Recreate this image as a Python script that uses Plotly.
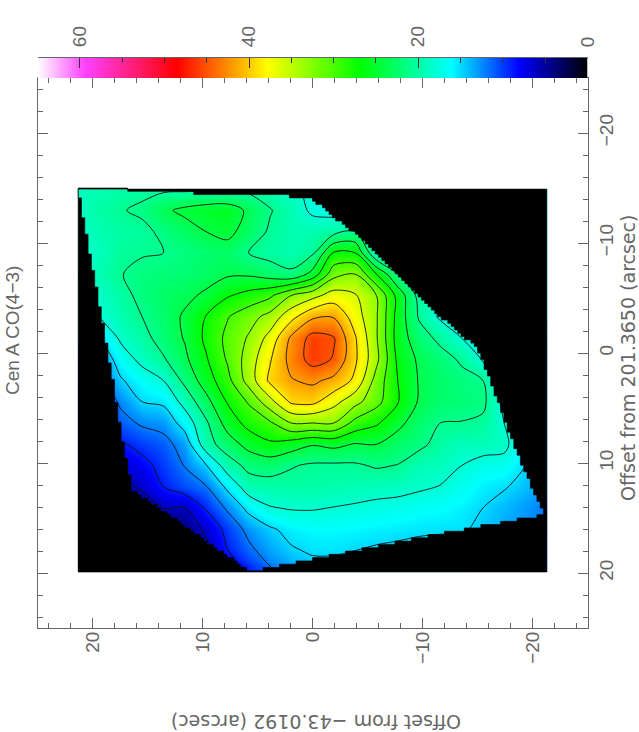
#!/usr/bin/env python3
"""Cen A CO(4-3) integrated intensity map, rotated PGPLOT style layout."""

import numpy as np
import plotly.graph_objects as go

# map values, rows run from -14.9 to 19.9 arcsec, columns from 21.3 to -21.3
z_grid = [
    [19, 19.5, 20, 20.3, 20.5, 20.5, 20.5, 20.5, 20.3, 19.5, 18.5, 17.5, 17, 16, 16, 16, 16, 16, 16, 16, 16, 16, 16],
    [19, 20, 20.8, 21.5, 23.5, 24.6, 25.3, 25.5, 23.5, 21.2, 19.5, 17.5, 17, 16, 16, 16, 16, 16, 16, 16, 16, 16, 16],
    [18.5, 19.5, 20, 20.3, 21.6, 22.8, 24, 24.8, 22.8, 20.6, 19.5, 19.5, 20, 21, 20, 18, 16, 16, 16, 16, 16, 16, 16],
    [18, 19, 20.5, 20.8, 21, 21.7, 22.3, 22.7, 21, 20, 19.5, 20.5, 27.3, 27, 18, 17, 16, 16, 16, 16, 16, 16, 16],
    [18, 19.5, 20.9, 21.7, 22, 22.2, 22.8, 23.6, 23.6, 22.6, 21.5, 25, 32, 33, 27, 21, 18, 16, 16, 16, 16, 16, 16],
    [17.5, 18.5, 20, 21.8, 22.8, 23.3, 24.5, 26.7, 28, 29.4, 33, 35, 37.3, 36.3, 33, 26, 20, 18, 17, 16, 16, 16, 16],
    [15, 18, 19.5, 21, 22.5, 24.4, 27.1, 29.8, 31.8, 34, 38, 41.5, 41.8, 37.5, 33.3, 25.9, 20.7, 17.5, 16.5, 16, 16, 16, 16],
    [13, 15, 18.5, 20, 22.2, 24.2, 27.6, 30.7, 33.3, 37, 42.5, 46, 45.2, 39.3, 33.3, 25.7, 22.3, 20.3, 18, 16, 15.5, 15, 14],
    [11, 12.5, 16.5, 18.8, 20.7, 23.4, 26.7, 30.3, 34.3, 38.7, 43, 46.2, 44.8, 39.5, 33.8, 26.4, 23.5, 22.1, 20.6, 17.7, 15, 14, 13],
    [9.5, 11, 14.7, 16.5, 18, 21.7, 25.5, 29, 34.2, 39.6, 41.8, 42.6, 41.2, 38.4, 31.8, 27, 23.8, 22.5, 21.8, 21, 15.5, 14, 13],
    [8, 9.5, 12.5, 15, 15.5, 19, 23, 27.2, 30.3, 35, 39.5, 39.8, 37, 34, 31, 27.2, 23.7, 22.5, 22, 21.7, 17, 14, 13],
    [7, 8, 11, 12.4, 13, 16.2, 20.5, 25.2, 28, 29.5, 33, 33, 33, 29, 27.4, 24.8, 22.5, 21, 20.9, 20.4, 18, 15, 13],
    [6, 7, 8.6, 10, 11, 13.2, 19.7, 22.5, 25, 26.5, 25.5, 24.2, 24.8, 23.8, 24, 22.6, 21.7, 20, 19, 19.2, 18.7, 15.5, 14],
    [5, 5.5, 6.5, 8, 10, 12.1, 14.8, 19.5, 21.8, 22.3, 21.2, 20.6, 20.5, 20.6, 21.3, 20.9, 19.3, 19, 18, 17, 17, 15, 13],
    [4, 4.5, 5, 6.5, 9, 10.6, 11.8, 15.6, 19.5, 19.8, 20, 19.9, 19.6, 19.4, 19, 18.9, 18.4, 17.9, 16.9, 15.8, 15.2, 14.2, 13],
    [3, 3.5, 3.8, 4, 6, 6, 9.3, 12.4, 15.8, 17.8, 18.2, 18.2, 17.9, 17.6, 17.3, 17, 16.6, 16.3, 15.8, 15, 14, 13, 12],
    [3, 3, 3, 3, 3.5, 4, 6.5, 9.9, 12.8, 14.6, 15.8, 16.2, 16.2, 16, 15.8, 15.6, 15.4, 15.3, 15.3, 14.4, 13.5, 12.7, 12],
    [3, 3, 3, 3, 3, 3.5, 5, 8.9, 11.3, 13.3, 14.7, 15.3, 15.3, 15, 14.7, 14.5, 14.2, 14, 13.7, 13.4, 13, 12.5, 12],
    [3, 3, 3, 3, 3, 3, 3, 6, 9.2, 11.5, 13, 14, 14, 14, 14, 14, 14, 14, 14, 13, 13, 12, 12],
]

# outline of the observed area, arcsec
area_x = [21.3, 17.95, 10.86, 3.59, 0.23, -3.68, -10.05, -14.95, -16.3, -19.14, -21.2,
          -12.5, -0.95, 5.68, 14.59, 16.32, 17.23, 18.14, 19.14]
area_y = [-14.9, -14.9, -14.55, -14.36, -14.09, -11.0, -4.64, -0.45, 2.9, 10.64, 14.73,
          16.27, 18.55, 19.9, 13.55, 12.45, 8.18, 2.45, -3.18]

map_x_limits = [21.3, -21.3]
map_y_limits = [-14.9, 19.9]

contour_levels = dict(start=6, end=45, size=3)

# colour table
table_values = [0, 8.1, 16.2, 27, 37.8, 48.6, 59.4, 65]
table_colors = ['#000000', '#0000ff', '#00ffff', '#00ff00', '#ffff00', '#ff0000', '#ff40ff', '#ffffff']
bar_values = list(range(0, 66))
bar_ticks = [0, 20, 40, 60]

INK = '#666666'
TICK_FONT = dict(family='Liberation Sans', size=19, color=INK)
TITLE_FONT = dict(family='DejaVu Sans', size=19, color=INK)
W, H = 639, 732


def stairs(xs, ys, pitch=0.3):
    """Walk a closed outline on a pixel grid so it gets the blocky edge of the map"""
    out_x, out_y = [], []
    for i in range(len(xs)):
        x0, y0 = xs[i], ys[i]
        x1, y1 = xs[(i + 1) % len(xs)], ys[(i + 1) % len(xs)]
        n = int(max(abs(x1 - x0), abs(y1 - y0)) / pitch * 2) + 1
        for t in np.linspace(0, 1, n, endpoint=False):
            px = round((x0 + (x1 - x0) * t) / pitch) * pitch
            py = round((y0 + (y1 - y0) * t) / pitch) * pitch
            if out_x:
                out_x.append(px)
                out_y.append(out_y[-1])
            out_x.append(px)
            out_y.append(py)
    return out_x, out_y


x_nodes = np.linspace(map_x_limits[0], map_x_limits[1], len(z_grid[0]))
y_nodes = np.linspace(map_y_limits[0], map_y_limits[1], len(z_grid))
# cell edges, the outer ones stop on the map limits
x_edges = [map_x_limits[0]] + list((x_nodes[:-1] + x_nodes[1:]) / 2) + [map_x_limits[1]]
y_edges = [map_y_limits[0]] + list((y_nodes[:-1] + y_nodes[1:]) / 2) + [map_y_limits[1]]

colorscale = [[v / 65, c] for v, c in zip(table_values, table_colors)]

fig = go.Figure()

fig.add_trace(go.Heatmap(
    x=x_edges, y=y_edges, z=z_grid,
    zmin=0, zmax=65, colorscale=colorscale, zsmooth='best',
    showscale=False, hoverinfo='skip'
))

fig.add_trace(go.Contour(
    x=x_nodes, y=y_nodes, z=z_grid,
    contours=dict(coloring='none', **contour_levels),
    line=dict(color='#111111', width=0.9, smoothing=0.9),
    showscale=False, hoverinfo='skip'
))

# black outside the observed area: limits box with the outline cut out of it
step_x, step_y = stairs(area_x, area_y)
box_x = [map_x_limits[0], map_x_limits[0], map_x_limits[1], map_x_limits[1], map_x_limits[0]]
box_y = [map_y_limits[0], map_y_limits[1], map_y_limits[1], map_y_limits[0], map_y_limits[0]]
fig.add_trace(go.Scatter(
    x=box_x + [None] + step_x + [step_x[0]],
    y=box_y + [None] + step_y + [step_y[0]],
    mode='lines', fill='toself', fillcolor='#000000',
    line=dict(width=0.6, color='#000000'), showlegend=False, hoverinfo='skip'
))

# colour wedge
fig.add_trace(go.Heatmap(
    x=bar_values, y=[0, 1], z=[bar_values, bar_values],
    zmin=0, zmax=65, colorscale=colorscale, zsmooth='best',
    showscale=False, hoverinfo='skip', xaxis='x2', yaxis='y2'
))

axis_style = dict(
    showline=True, linecolor=INK, linewidth=1, showgrid=False, zeroline=False,
    ticks='inside', ticklen=10, tickcolor=INK, tickwidth=1, dtick=10,
    minor=dict(dtick=2, ticks='inside', ticklen=5, tickcolor=INK, tickwidth=1, showgrid=False),
    mirror='ticks', tickfont=TICK_FONT, tickangle=-90
)

title_style = dict(xref='paper', yref='paper', showarrow=False, xanchor='center', yanchor='middle')

fig.update_layout(
    width=W, height=H,
    margin=dict(l=0, r=0, t=0, b=0, autoexpand=False),
    paper_bgcolor='white', plot_bgcolor='white',
    showlegend=False,
    xaxis=dict(domain=[37.5 / W, 587.5 / W], range=[25, -25], anchor='y', ticklabelstandoff=-5, **axis_style),
    yaxis=dict(domain=[1 - 628 / H, 1 - 78 / H], range=[25, -25], anchor='x', side='right', ticklabelstandoff=2, **axis_style),
    xaxis2=dict(
        domain=[37.5 / W, 587.5 / W], range=[65, 0], anchor='y2', side='top',
        showline=True, linecolor=INK, linewidth=1, showgrid=False, zeroline=False,
        tickmode='array', tickvals=bar_ticks, ticks='inside', ticklen=10, tickcolor='#333333', tickwidth=1,
        minor=dict(dtick=5, ticks='inside', ticklen=5, tickcolor='#333333', tickwidth=1, showgrid=False),
        tickfont=TICK_FONT, tickangle=-90, ticklabelstandoff=6
    ),
    yaxis2=dict(
        domain=[1 - 78 / H, 1 - 58 / H], range=[0, 1], anchor='x2',
        showline=False, showticklabels=False, ticks='', showgrid=False, zeroline=False
    ),
    annotations=[
        dict(text='Cen A CO(4\u22123)', x=12 / W, y=1 - 331 / H, textangle=-90, font=TICK_FONT, **title_style),
        dict(text='Offset from 201.3650 (arcsec)', x=628 / W, y=1 - 358 / H, textangle=-90, font=TITLE_FONT, **title_style),
        dict(text='Offset from \u221243.0192 (arcsec)', x=316 / W, y=1 - 722 / H, textangle=180, font=TITLE_FONT, **title_style),
    ]
)

fig.write_html("out.html", config={'displayModeBar': False},
               post_script="document.body.style.margin='0';")
